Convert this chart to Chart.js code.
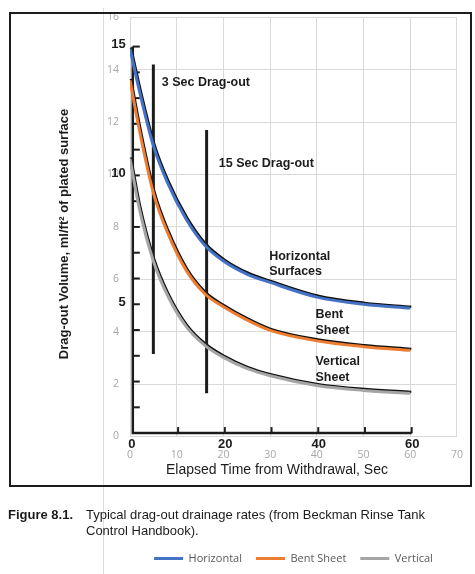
<!DOCTYPE html>
<html>
<head>
<meta charset="utf-8">
<script src="https://cdn.jsdelivr.net/npm/chart.js@4.4.1/dist/chart.umd.min.js"></script>
<style>
  html, body { margin: 0; padding: 0; background: #fff; }
  #wrap { position: relative; width: 475px; height: 574px; }
</style>
</head>
<body>
<div id="wrap"><canvas id="chart" width="475" height="574"></canvas></div>
<script>
// DATA
const times = [0, 2, 5, 8, 12, 16, 20, 25, 30, 40, 50, 60];
const horizontal = [14.8, 13.2, 11.1, 9.7, 8.3, 7.3, 6.7, 6.2, 5.88, 5.32, 5.05, 4.9];
const bentSheet = [13.6, 11.7, 9.3, 7.8, 6.35, 5.45, 4.95, 4.45, 4.05, 3.65, 3.43, 3.29];
const vertical = [10.6, 8.7, 6.7, 5.4, 4.2, 3.48, 3.02, 2.6, 2.32, 1.95, 1.76, 1.65];

// scanned handbook figure drawn behind the series
const barTimes = [5.0, 16.4];
const barTops = [14.2, 11.7];
const barBottoms = [3.15, 1.65];
const scanYLabels = [15, 10, 5];
const scanXLabels = [0, 20, 40, 60];
const noteTexts = ["3 Sec Drag-out", "15 Sec Drag-out", "Horizontal", "Surfaces", "Bent", "Sheet", "Vertical", "Sheet"];
const noteTimes = [6.8, 19.0, 29.8, 29.8, 39.7, 39.7, 39.7, 39.7];
const noteValues = [13.5, 10.4, 6.86, 6.29, 4.66, 4.05, 2.87, 2.26];

// COLOURS
const BLUE = "#4472c4";
const ORANGE = "#ed7d31";
const GRAY = "#a5a5a5";
const INK = "#1c1c1c";

// scan axis: its 0..15 scale sits slightly off the excel one
const scanToValue = s => 0.13 + s * 0.9835;

function toPoints(values) {
    return times.map((t, i) => ({ x: t, y: values[i] }));
}

function series(label, values, color) {
    return {
        label,
        data: toPoints(values),
        borderColor: color,
        backgroundColor: color,
        borderWidth: 3,
        pointRadius: 0,
        cubicInterpolationMode: "monotone",
        fill: false
    };
}

// SCAN OVERLAY
const scanOverlay = {
    id: "scanOverlay",
    beforeDatasetsDraw(chart) {
        const { ctx, scales: { x, y } } = chart;
        ctx.save();

        // outer box of the scanned figure
        ctx.strokeStyle = INK;
        ctx.lineWidth = 2;
        ctx.strokeRect(10, 13, 461, 473);

        // black scanned curves peeking out under the coloured lines
        ctx.strokeStyle = "#111";
        ctx.lineWidth = 2.5;
        chart.data.datasets.forEach((ds, i) => {
            const meta = chart.getDatasetMeta(i);
            if (!meta.dataset) return;
            ctx.save();
            ctx.translate(1, -1.3);
            ctx.beginPath();
            meta.dataset.path(ctx);
            ctx.stroke();
            ctx.restore();
        });

        // scanned axes
        const ax = x.getPixelForValue(0.6);
        const ay = y.getPixelForValue(scanToValue(0));
        ctx.strokeStyle = INK;
        ctx.lineWidth = 2.5;
        ctx.beginPath();
        ctx.moveTo(ax, y.getPixelForValue(scanToValue(15)));
        ctx.lineTo(ax, ay);
        ctx.lineTo(x.getPixelForValue(60.3), ay);
        ctx.stroke();

        ctx.lineWidth = 2;
        for (let s = 1; s <= 15; s++) {
            const py = y.getPixelForValue(scanToValue(s));
            ctx.beginPath();
            ctx.moveTo(ax, py);
            ctx.lineTo(ax + 7, py);
            ctx.stroke();
        }
        for (let t = 10; t <= 60; t += 10) {
            const px = x.getPixelForValue(t + 0.3);
            ctx.beginPath();
            ctx.moveTo(px, ay);
            ctx.lineTo(px, ay - 6);
            ctx.stroke();
        }

        // drag-out bars
        ctx.lineWidth = 3;
        barTimes.forEach((t, i) => {
            const px = x.getPixelForValue(t);
            ctx.beginPath();
            ctx.moveTo(px, y.getPixelForValue(barTops[i]));
            ctx.lineTo(px, y.getPixelForValue(barBottoms[i]));
            ctx.stroke();
        });

        // scanned tick labels
        ctx.fillStyle = INK;
        ctx.font = "bold 13px 'Liberation Sans', Arial, sans-serif";
        ctx.textAlign = "right";
        ctx.textBaseline = "middle";
        scanYLabels.forEach(s => {
            ctx.fillText(String(s), ax - 7, y.getPixelForValue(scanToValue(s)) - 2);
        });
        ctx.textAlign = "center";
        scanXLabels.forEach(t => {
            ctx.fillText(String(t), x.getPixelForValue(t + 0.4), ay + 11);
        });

        // notes on the plot
        ctx.textAlign = "left";
        ctx.font = "bold 12.5px 'Liberation Sans', Arial, sans-serif";
        noteTexts.forEach((txt, i) => {
            ctx.fillText(txt, x.getPixelForValue(noteTimes[i]), y.getPixelForValue(noteValues[i]));
        });

        ctx.restore();
    },
    afterDraw(chart) {
        const { ctx } = chart;
        ctx.save();
        ctx.fillStyle = INK;

        // axis titles of the scan
        ctx.font = "bold 13px 'Liberation Sans', Arial, sans-serif";
        ctx.textAlign = "center";
        ctx.textBaseline = "middle";
        ctx.save();
        ctx.translate(64, 234);
        ctx.rotate(-Math.PI / 2);
        ctx.fillText("Drag-out Volume, ml/ft² of plated surface", 0, 0);
        ctx.restore();

        ctx.font = "14px 'Liberation Sans', Arial, sans-serif";
        ctx.fillText("Elapsed Time from Withdrawal, Sec", 277, 470);

        // caption
        ctx.textAlign = "left";
        ctx.font = "bold 13px 'Liberation Sans', Arial, sans-serif";
        ctx.fillText("Figure 8.1.", 8, 515);
        ctx.font = "13px 'Liberation Sans', Arial, sans-serif";
        ctx.fillText("Typical drag-out drainage rates (from Beckman Rinse Tank", 86, 515);
        ctx.fillText("Control Handbook).", 86, 531);

        ctx.restore();
    }
};

// faint left edge of the excel chart area
const chartEdge = {
    id: "chartEdge",
    beforeDraw(chart) {
        const { ctx } = chart;
        ctx.save();
        ctx.strokeStyle = "#dcdcdc";
        ctx.lineWidth = 1;
        ctx.beginPath();
        ctx.moveTo(103.5, 8);
        ctx.lineTo(103.5, 574);
        ctx.stroke();
        ctx.restore();
    }
};

const chart = new Chart(document.getElementById("chart"), {
    type: "line",
    data: {
        datasets: [
            series("Horizontal", horizontal, BLUE),
            series("Bent Sheet", bentSheet, ORANGE),
            series("Vertical", vertical, GRAY)
        ]
    },
    options: {
        responsive: false,
        animation: false,
        devicePixelRatio: 1,
        layout: { padding: { left: 103, right: 7, top: 14, bottom: 0 } },
        plugins: {
            tooltip: { enabled: false },
            legend: {
                position: "bottom",
                fullSize: false,
                labels: {
                    usePointStyle: true,
                    pointStyle: "line",
                    pointStyleWidth: 29,
                    color: "#595959",
                    padding: 14,
                    font: { family: "'Open Sans', sans-serif", size: 11 }
                }
            }
        },
        scales: {
            x: {
                type: "linear",
                min: 0,
                max: 70,
                ticks: {
                    stepSize: 10,
                    color: "#a6a6a6",
                    padding: 12,
                    font: { family: "'Open Sans', sans-serif", size: 10.5 }
                },
                grid: { color: "#d9d9d9", drawTicks: false },
                border: { display: false },
                afterFit: scale => { scale.height = 102.5; }
            },
            y: {
                min: 0,
                max: 16,
                ticks: {
                    stepSize: 2,
                    color: "#a6a6a6",
                    padding: 11,
                    font: { family: "'Open Sans', sans-serif", size: 10.5 }
                },
                grid: { color: "#d9d9d9", drawTicks: false },
                border: { display: false },
                afterFit: scale => { scale.width = 27; }
            }
        }
    },
    plugins: [chartEdge, scanOverlay]
});
</script>
</body>
</html>
